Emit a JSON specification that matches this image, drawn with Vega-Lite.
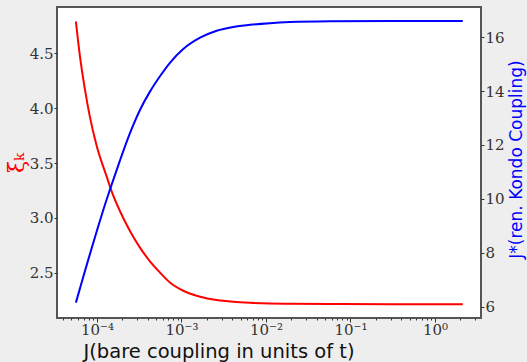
{
  "$schema": "https://vega.github.io/schema/vega-lite/v6.json",
  "width": 424,
  "height": 311,
  "autosize": {"type": "none"},
  "padding": {"left": 57, "top": 7, "right": 46, "bottom": 44},
  "background": "#eeeeee",
  "config": {
    "view": {"fill": "white", "stroke": "#555555", "strokeWidth": 2},
    "axis": {
      "labelFont": "DejaVu Serif",
      "labelFontSize": 15,
      "labelColor": "#333333",
      "tickColor": "#333333",
      "domain": false,
      "grid": false,
      "titleFont": "DejaVu Sans",
      "titleFontWeight": "normal"
    }
  },
  "data": {
    "values": [
      {"J": 5.64e-5, "xi": 4.788, "Js": 6.15},
      {"J": 6.30e-5, "xi": 4.47, "Js": 6.68},
      {"J": 7.21e-5, "xi": 4.17, "Js": 7.32},
      {"J": 8.26e-5, "xi": 3.92, "Js": 7.95},
      {"J": 9.91e-5, "xi": 3.66, "Js": 8.78},
      {"J": 1.30e-4, "xi": 3.38, "Js": 9.97},
      {"J": 1.49e-4, "xi": 3.245, "Js": 10.52},
      {"J": 1.87e-4, "xi": 3.064, "Js": 11.42},
      {"J": 2.46e-4, "xi": 2.882, "Js": 12.44},
      {"J": 3.23e-4, "xi": 2.73, "Js": 13.3},
      {"J": 4.24e-4, "xi": 2.606, "Js": 13.98},
      {"J": 5.57e-4, "xi": 2.504, "Js": 14.55},
      {"J": 7.31e-4, "xi": 2.413, "Js": 15.05},
      {"J": 1.05e-3, "xi": 2.338, "Js": 15.56},
      {"J": 1.66e-3, "xi": 2.283, "Js": 15.98},
      {"J": 2.61e-3, "xi": 2.253, "Js": 16.24},
      {"J": 4.10e-3, "xi": 2.237, "Js": 16.38},
      {"J": 6.47e-3, "xi": 2.228, "Js": 16.46},
      {"J": 1.11e-2, "xi": 2.222, "Js": 16.52},
      {"J": 1.92e-2, "xi": 2.219, "Js": 16.56},
      {"J": 5.71e-2, "xi": 2.217, "Js": 16.59},
      {"J": 0.316, "xi": 2.215, "Js": 16.6},
      {"J": 2.13, "xi": 2.215, "Js": 16.6}
    ]
  },
  "encoding": {
    "x": {
      "field": "J",
      "type": "quantitative",
      "scale": {"type": "log", "domain": [3.37e-5, 3.5], "nice": false},
      "axis": {
        "values": [4e-5, 5e-5, 6e-5, 7e-5, 8e-5, 9e-5, 1e-4, 2e-4, 3e-4, 4e-4, 5e-4, 6e-4, 7e-4, 8e-4, 9e-4, 1e-3, 2e-3, 3e-3, 4e-3, 5e-3, 6e-3, 7e-3, 8e-3, 9e-3, 1e-2, 2e-2, 3e-2, 4e-2, 5e-2, 6e-2, 7e-2, 8e-2, 9e-2, 0.1, 0.2, 0.3, 0.4, 0.5, 0.6, 0.7, 0.8, 0.9, 1, 2, 3],
        "labelExpr": "abs(datum.value-1)<1e-9 ? '10⁰' : abs(datum.value-0.1)<1e-10 ? '10⁻¹' : abs(datum.value-0.01)<1e-11 ? '10⁻²' : abs(datum.value-0.001)<1e-12 ? '10⁻³' : abs(datum.value-0.0001)<1e-13 ? '10⁻⁴' : ''",
        "tickSize": {"condition": {"test": "abs(log(datum.value)/LN10 - round(log(datum.value)/LN10)) < 0.001", "value": 4}, "value": 2},
        "labelPadding": 0,
        "labelFlush": false,
        "labelOverlap": false,
        "title": "J(bare coupling in units of t)",
        "titleFontSize": 19.5,
        "titleColor": "#111111",
        "titleAlign": "left",
        "titleBaseline": "alphabetic",
        "titleX": 26,
        "titleY": 39
      }
    }
  },
  "layer": [
    {
      "mark": {"type": "line", "color": "#ff0000", "strokeWidth": 2, "interpolate": "monotone"},
      "encoding": {
        "y": {
          "field": "xi",
          "type": "quantitative",
          "scale": {"domain": [2.09, 4.92], "nice": false, "zero": false},
          "axis": {
            "orient": "left",
            "values": [2.5, 3.0, 3.5, 4.0, 4.5],
            "format": ".1f",
            "tickSize": 3,
            "labelPadding": 1,
            "title": "ξₖ",
            "titleColor": "#ff0000",
            "titleFont": "DejaVu Serif",
            "titleFontSize": 22,
            "titlePadding": 1
          }
        }
      }
    },
    {
      "mark": {"type": "line", "color": "#0000ff", "strokeWidth": 2, "interpolate": "monotone"},
      "encoding": {
        "y": {
          "field": "Js",
          "type": "quantitative",
          "scale": {"domain": [5.58, 17.12], "nice": false, "zero": false},
          "axis": {
            "orient": "right",
            "values": [6, 8, 10, 12, 14, 16],
            "tickSize": 3,
            "labelPadding": 1,
            "title": "J*(ren. Kondo Coupling)",
            "titleColor": "#0000ff",
            "titleFontSize": 17,
            "titleAngle": -90,
            "titleAlign": "center",
            "titleBaseline": "middle",
            "titleX": 35,
            "titleY": 152
          }
        }
      }
    }
  ],
  "resolve": {"scale": {"y": "independent"}}
}
